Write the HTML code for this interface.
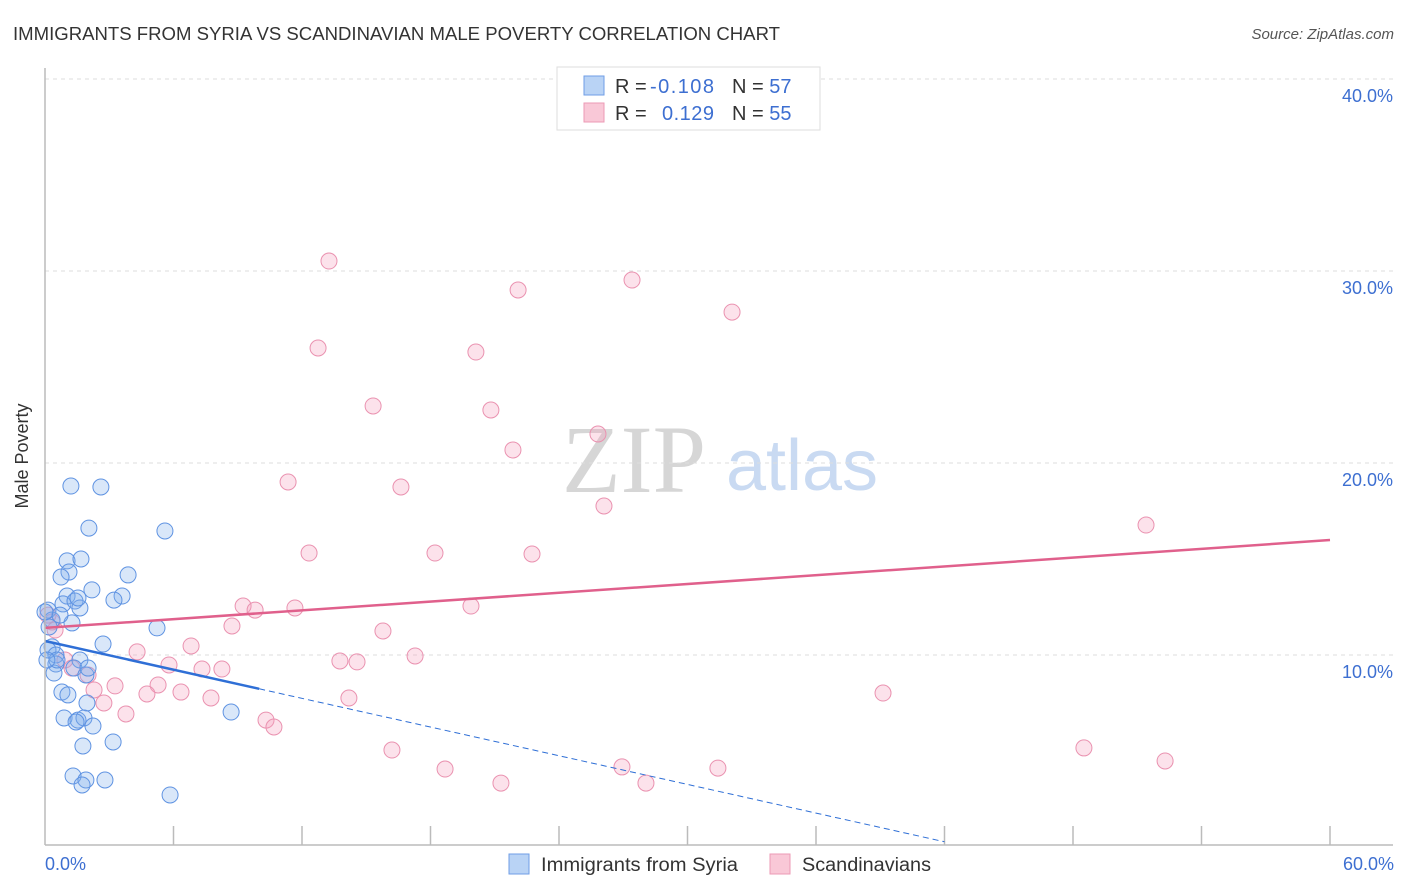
<!DOCTYPE html>
<html><head><meta charset="utf-8"><style>
body{margin:0;background:#fff;font-family:"Liberation Sans",sans-serif;}
#wrap{position:relative;width:1406px;height:892px;overflow:hidden;}
</style></head><body>
<div id="wrap">
<svg id="svg" width="1406" height="892" xmlns="http://www.w3.org/2000/svg">
<text x="13" y="40" font-size="18" fill="#333" textLength="767" lengthAdjust="spacingAndGlyphs">IMMIGRANTS FROM SYRIA VS SCANDINAVIAN MALE POVERTY CORRELATION CHART</text>
<text x="1394" y="39" font-size="15" fill="#555" font-style="italic" text-anchor="end">Source: ZipAtlas.com</text>
<text x="634" y="492" font-size="96" fill="#d6d6d6" font-family="Liberation Serif,serif" text-anchor="middle">ZIP</text>
<text x="802" y="490" font-size="72" fill="#c9daf2" text-anchor="middle">atlas</text>
<text x="28" y="456" font-size="18" fill="#333" text-anchor="middle" transform="rotate(-90 28 456)">Male Poverty</text>
<g id="grid"></g><g id="pts"></g><g id="lines"></g>
<line x1="45" y1="68" x2="45" y2="845" stroke="#bbb" stroke-width="1.5"/>
<line x1="45" y1="845" x2="1393" y2="845" stroke="#bbb" stroke-width="1.5"/>
<text x="45" y="870" font-size="18" fill="#3d6fd1">0.0%</text>
<text x="1394" y="870" font-size="18" fill="#3d6fd1" text-anchor="end">60.0%</text>
<g>
<rect x="557" y="67" width="263" height="63" fill="#fff" stroke="#ddd"/>
<rect x="584" y="76" width="20" height="19" fill="#b9d3f5" stroke="#6f9ee6"/>
<rect x="584" y="103" width="20" height="19" fill="#f9c8d7" stroke="#ec9ab5"/>
<text x="615" y="93" font-size="20" fill="#333">R = </text>
<text x="650" y="93" font-size="20" fill="#3d6fd1" textLength="64">-0.108</text>
<text x="732" y="93" font-size="20" fill="#333">N = <tspan fill="#3d6fd1">57</tspan></text>
<text x="615" y="120" font-size="20" fill="#333">R = </text>
<text x="662" y="120" font-size="20" fill="#3d6fd1" textLength="52">0.129</text>
<text x="732" y="120" font-size="20" fill="#333">N = <tspan fill="#3d6fd1">55</tspan></text>
</g>
<rect x="509" y="854" width="20" height="20" fill="#b9d3f5" stroke="#6f9ee6"/>
<text x="541" y="871" font-size="19" fill="#333" textLength="197" lengthAdjust="spacingAndGlyphs">Immigrants from Syria</text>
<rect x="770" y="854" width="20" height="20" fill="#f9c8d7" stroke="#ec9ab5"/>
<text x="802" y="871" font-size="19" fill="#333" textLength="129" lengthAdjust="spacingAndGlyphs">Scandinavians</text>
</svg>
</div>
<script>
const yTicks=[10,20,30,40];
const yTickLabels=["10.0%","20.0%","30.0%","40.0%"];
const xTicks=[6,12,18,24,30,36,42,48,54,60];
const syriaX=[1.21,2.61,2.05,5.60,1.03,1.68,1.12,0.75,3.88,2.19,3.60,3.22,1.03,0.84,1.40,1.63,0.14,0.33,1.26,0.19,5.23,2.71,0.33,0.14,0.51,1.63,0.51,1.35,0.42,1.91,0.79,1.07,1.96,8.69,0.89,1.54,1.82,2.24,3.18,1.77,1.31,1.91,1.73,2.80,5.84,0.70,0.0,1.54,0.56,2.01,0.09,1.45];
const syriaY=[18.80,18.75,16.61,16.46,14.90,15.00,14.32,14.06,14.17,13.39,13.07,12.86,13.07,12.66,12.81,12.45,12.34,11.82,11.67,11.46,11.41,10.57,10.42,10.26,10.00,9.74,9.53,9.32,9.06,8.96,8.07,7.92,7.50,7.03,6.72,6.61,6.72,6.30,5.47,5.26,3.70,3.49,3.23,3.49,2.71,12.08,12.24,12.97,9.74,9.32,9.74,6.51];
const scanX=[13.26,27.41,22.09,32.08,12.75,20.12,15.32,20.82,25.82,21.85,11.35,16.62,26.10,51.41,12.33,18.21,22.74,9.25,9.81,11.67,19.89,8.73,15.78,0.33,6.82,4.30,17.28,13.77,14.57,5.79,7.33,8.26,0.93,2.01,2.29,3.27,5.28,6.35,4.76,7.75,14.19,39.13,2.75,3.78,10.32,10.69,16.20,48.51,18.68,26.94,31.42,52.30,21.29,28.06,0.14,0.47,1.26];
const scanY=[30.52,29.53,29.01,27.86,25.99,25.78,22.97,22.76,21.51,20.68,19.01,18.75,17.76,16.77,15.31,15.31,15.26,12.55,12.34,12.45,12.55,11.51,11.25,11.72,10.47,10.16,9.95,9.69,9.64,9.48,9.27,9.27,9.74,8.96,8.18,8.39,8.44,8.07,7.97,7.76,7.76,8.02,7.50,6.93,6.61,6.25,5.05,5.16,4.06,4.17,4.11,4.48,3.33,3.33,12.08,11.30,9.32];
const syriaTrend=[10.73,-0.249];
const scanTrend=[11.41,0.0763];
const NS="http://www.w3.org/2000/svg";
const sx=v=>45+v/60*1285, sy=v=>847-v*19.2;
function mk(t,a,p){const e=document.createElementNS(NS,t);for(const k in a)e.setAttribute(k,a[k]);p.appendChild(e);return e;}
const grid=document.getElementById('grid');
yTicks.forEach((t,i)=>{
 const l=mk('line',{x1:45,x2:1393,y1:sy(t),y2:sy(t),stroke:'#ddd','stroke-dasharray':'4,4'},grid);
 
 
 const tx=mk('text',{x:1393,y:sy(t)+23,'font-size':18,fill:'#3d6fd1','text-anchor':'end'},grid);
 tx.textContent=yTickLabels[i];
 
 
});
xTicks.forEach(t=>{
 const l=mk('line',{x1:sx(t),x2:sx(t),y1:826,y2:845,stroke:'#bbb','stroke-width':1.5},grid);
 
 
});
const pts=document.getElementById('pts');
scanX.forEach((x,i)=>{
 const c=mk('circle',{cx:sx(x),cy:sy(scanY[i]),r:8,fill:'rgba(245,160,190,0.3)',stroke:'#ea92b0','stroke-width':1},pts);
 
 
});
syriaX.forEach((x,i)=>{
 const c=mk('circle',{cx:sx(x),cy:sy(syriaY[i]),r:8,fill:'rgba(130,175,235,0.3)',stroke:'#5f93e2','stroke-width':1},pts);
 
 
});
const lines=document.getElementById('lines');
const f=(tr,x)=>tr[0]+tr[1]*x;
let l1=mk('line',{x1:sx(0),y1:sy(f(scanTrend,0)),x2:sx(60),y2:sy(f(scanTrend,60)),stroke:'#e0608c','stroke-width':2.5},lines);


let l2=mk('line',{x1:sx(0),y1:sy(f(syriaTrend,0)),x2:sx(10),y2:sy(f(syriaTrend,10)),stroke:'#2f6fd6','stroke-width':2.5},lines);


let l3=mk('line',{x1:sx(10),y1:sy(f(syriaTrend,10)),x2:sx(42),y2:sy(f(syriaTrend,42)),stroke:'#2f6fd6','stroke-width':1,'stroke-dasharray':'6,4'},lines);


</script>
</body></html>
